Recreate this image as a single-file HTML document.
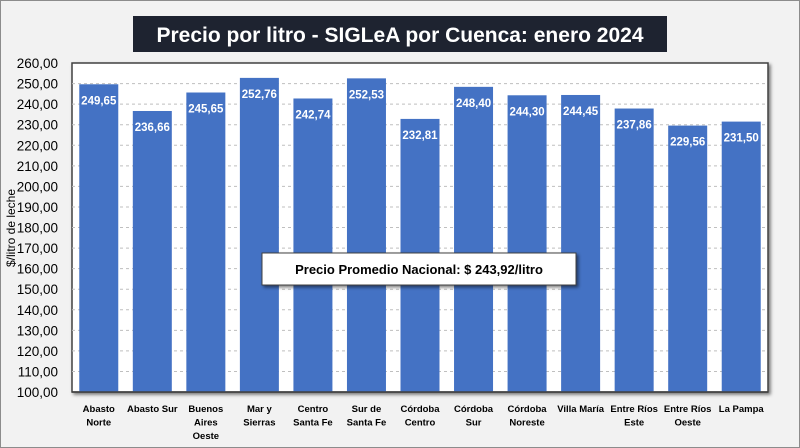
<!DOCTYPE html>
<html><head><meta charset="utf-8"><style>
body{margin:0;width:800px;height:448px;overflow:hidden;background:#f2f2f2;font-family:"Liberation Sans",sans-serif;}
#frame{position:absolute;left:0;top:0;width:798px;height:446px;border:1px solid #8c8c8c;background:#f2f2f2;}
</style></head><body>
<div id="frame"></div>
<svg id="chart" width="800" height="448" style="position:absolute;left:0;top:0">
<defs><filter id="sh" x="-5%" y="-5%" width="115%" height="130%"><feDropShadow dx="2" dy="2" stdDeviation="1.5" flood-color="#000" flood-opacity="0.5"/></filter></defs>
</svg>
<script>
const categories=[["Abasto","Norte"],["Abasto Sur"],["Buenos","Aires","Oeste"],["Mar y","Sierras"],["Centro","Santa Fe"],["Sur de","Santa Fe"],["Córdoba","Centro"],["Córdoba","Sur"],["Córdoba","Noreste"],["Villa María"],["Entre Ríos","Este"],["Entre Ríos","Oeste"],["La Pampa"]];
const values=[249.65,236.66,245.65,252.76,242.74,252.53,232.81,248.40,244.30,244.45,237.86,229.56,231.50];
const yTicks=[100,110,120,130,140,150,160,170,180,190,200,210,220,230,240,250,260];
const NS="http://www.w3.org/2000/svg";
const svg=document.getElementById('chart');
const L=72,R=768,T=63,B=392,yMin=100,yMax=260;
const y=v=>B-(v-yMin)/(yMax-yMin)*(B-T);
const step=(R-L)/categories.length;
const x=i=>L+step*(i+0.5);
const fmt=v=>v.toFixed(2).replace('.',',');
function mk(tag,attrs,parent){const e=document.createElementNS(NS,tag);for(const k in attrs)e.setAttribute(k,attrs[k]);(parent||svg).appendChild(e);return e;}
const pa=mk('rect',{x:L,y:T,width:R-L,height:B-T,fill:'#fff',stroke:'#404040','stroke-width':1.5,filter:'url(#sh)'});


yTicks.forEach(t=>{
  if(t>yMin&&t<yMax){const g=mk('line',{x1:L,x2:R,y1:y(t),y2:y(t),stroke:'#bfbfbf','stroke-dasharray':'3,3'});
  
  }
  const tx=mk('text',{x:58,y:y(t)+5,'text-anchor':'end','font-size':'13.5',fill:'#000'});
  tx.textContent=fmt(t);
  
  
});
values.forEach((v,i)=>{
  const b=mk('rect',{x:x(i)-19.5,y:y(v),width:39,height:B-y(v),fill:'#4472c4'});
  
  
  const lb=mk('text',{x:x(i),y:y(v)+20,'text-anchor':'middle','font-size':'11.5','font-weight':'bold',fill:'#fff'});
  lb.textContent=fmt(v);
  
  
  const cl=mk('text',{x:x(i),y:412,'text-anchor':'middle','font-size':'9.5','font-weight':'bold',fill:'#000'});
  
  
  categories[i].forEach((ln,j)=>{const s=mk('tspan',{x:x(i),dy:j?13.5:0},cl);s.textContent=ln;});
});
const bl=mk('line',{x1:L,x2:R,y1:B,y2:B,stroke:'#404040','stroke-width':1.5});


const yt=mk('text',{transform:'translate(15,228) rotate(-90)','text-anchor':'middle','font-size':'12',fill:'#000'});
yt.textContent='$/litro de leche';


const tb=mk('rect',{x:133,y:16,width:534,height:36,fill:'#1e2330'});


const tt=mk('text',{x:400,y:42,'text-anchor':'middle','font-size':'21','font-weight':'bold',fill:'#fff'});
tt.textContent='Precio por litro - SIGLeA por Cuenca: enero 2024';


const ab=mk('rect',{x:262,y:253,width:314,height:32,fill:'#fff',stroke:'#404040','stroke-width':1,filter:'url(#sh)'});


const at=mk('text',{x:419,y:274,'text-anchor':'middle','font-size':'13','font-weight':'bold',fill:'#000'});
at.textContent='Precio Promedio Nacional: $ 243,92/litro';


</script>
</body></html>
